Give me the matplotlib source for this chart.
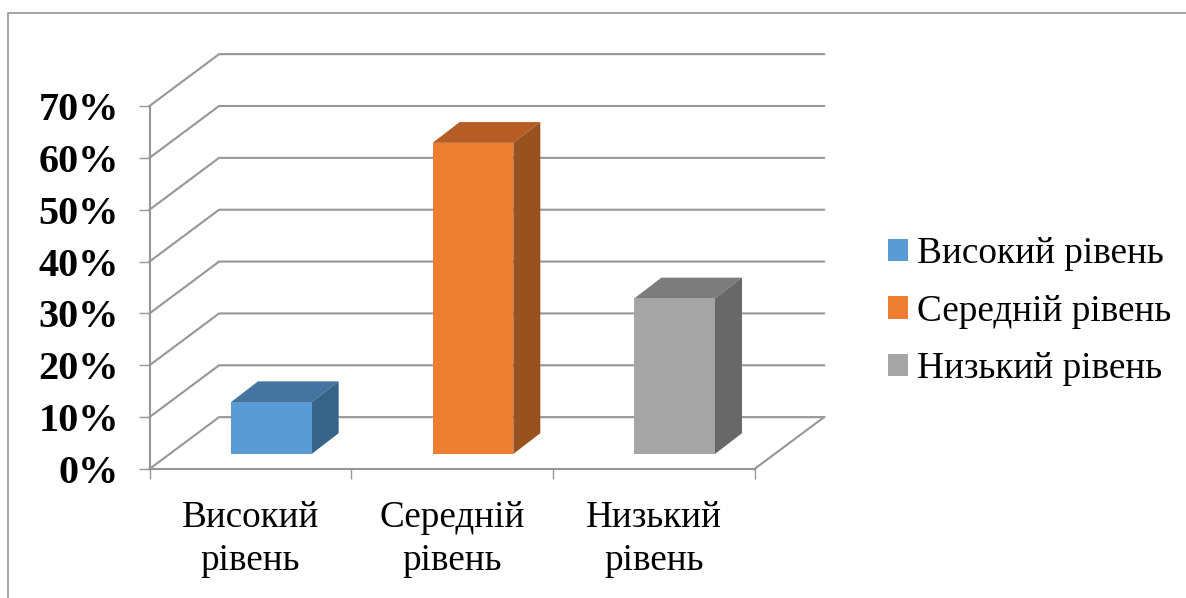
import matplotlib
matplotlib.use("Agg")
import matplotlib.pyplot as plt
from matplotlib.lines import Line2D

categories = ['Високий\nрівень', 'Середній\nрівень', 'Низький\nрівень']
series_names = ['Високий рівень', 'Середній рівень', 'Низький рівень']
values = [10, 60, 30]
y_ticks = [0, 10, 20, 30, 40, 50, 60, 70]

colors = ['#5B9BD5', '#ED7D31', '#A5A5A5']
top_colors = ['#44749F', '#B55D24', '#7C7C7C']
side_colors = ['#376389', '#97521E', '#686868']
line_color = '#969696'

W, H = 1186, 598
plt.rcParams['font.family'] = ['Liberation Serif', 'DejaVu Serif']

fig = plt.figure(figsize=(W / 100, H / 100), dpi=100)
# axes box is the front plane of the fake 3d chart
ax = fig.add_axes([149.5 / W, 1 - 469 / H, (754.5 - 149.5) / W, (469 - 106) / H])
ax.set_xlim(0, 3)
ax.set_ylim(0, 70)

# depth of the walls and of the bars, in data units
wall_dx, wall_dy = 0.345, 10
bar_dx, bar_dy = 0.134, 4.0
bar_base = 2.9
bar_shift = 0.604
bar_w = 0.40

# back wall and left wall
for v in y_ticks:
    ax.plot([0, wall_dx, 3 + wall_dx], [v, v + wall_dy, v + wall_dy],
            color=line_color, lw=1.5, clip_on=False, zorder=1)
ax.plot([3, 3 + wall_dx], [0, wall_dy], color=line_color, lw=1.5, clip_on=False, zorder=1)

# bars
handles = []
for i, v in enumerate(values):
    x0 = i + bar_shift - bar_w / 2
    x1 = x0 + bar_w
    top = bar_base + v
    b = ax.bar(i + bar_shift, v, bar_w, bottom=bar_base, color=colors[i],
               label=series_names[i], zorder=3, clip_on=False)
    ax.fill([x0, x0 + bar_dx, x1 + bar_dx, x1], [top, top + bar_dy, top + bar_dy, top],
            color=top_colors[i], lw=0, clip_on=False, zorder=2)
    ax.fill([x1, x1 + bar_dx, x1 + bar_dx, x1],
            [bar_base, bar_base + bar_dy, top + bar_dy, top],
            color=side_colors[i], lw=0, clip_on=False, zorder=2)
    handles.append(b)

for s in ['top', 'right']:
    ax.spines[s].set_visible(False)
for s in ['left', 'bottom']:
    ax.spines[s].set_color(line_color)
    ax.spines[s].set_linewidth(1.5)
    ax.spines[s].set_zorder(1)

ax.set_yticks(y_ticks)
ax.set_yticklabels([f'{v}%' for v in y_ticks], fontsize=29, fontweight='bold')
ax.tick_params(axis='y', length=8, width=1, color=line_color, pad=14)

ax.set_xticks([0, 1, 2, 3])
ax.set_xticklabels([])
ax.tick_params(axis='x', which='major', length=7.5, width=1, color=line_color)
ax.set_xticks([0.5, 1.5, 2.5], minor=True)
ax.set_xticklabels(categories, minor=True, fontsize=26.7, linespacing=1.3)
ax.tick_params(axis='x', which='minor', length=0, pad=23)

fig.legend(handles=handles, loc='center left', bbox_to_anchor=(888 / W, 1 - 311.5 / H),
           frameon=False, fontsize=26.8, handlelength=0.54, handleheight=0.54,
           handletextpad=0.25, labelspacing=0.62, borderpad=0, borderaxespad=0)

# outer chart frame, cropped at right and bottom
fig.add_artist(Line2D([8 / W, 8 / W, 1], [0, 1 - 13 / H, 1 - 13 / H], color=line_color, lw=1.2))

fig.savefig('out.png', dpi=100, facecolor='w')
